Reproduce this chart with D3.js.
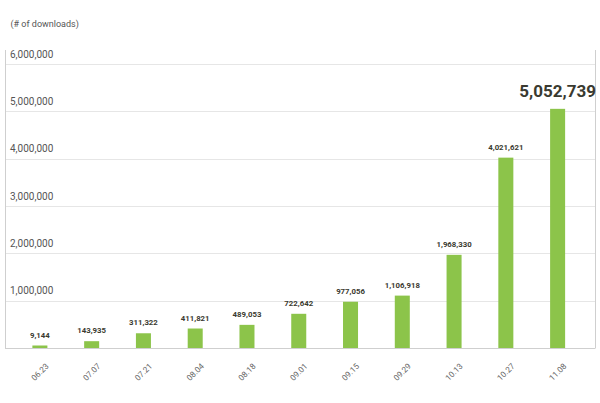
<!DOCTYPE html>
<html><head><meta charset="utf-8">
<script src="https://cdn.jsdelivr.net/npm/d3@7"></script>
<style>body{margin:0;background:#fff}svg{display:block}</style>
</head><body>
<svg id="c" width="600" height="403"></svg>
<script>
const categories = ["06.23","07.07","07.21","08.04","08.18","09.01","09.15","09.29","10.13","10.27","11.08"];
const values = [9144,143935,311322,411821,489053,722642,977056,1106918,1968330,4021621,5052739];
const yTicks = [1000000,2000000,3000000,4000000,5000000,6000000];
const yTitle = "(# of downloads)";

const svg = d3.select("#c");
const x0 = 5, x1 = 595.5, yTop = 50, yBase = 348;
const x = d3.scaleBand().domain(categories).range([14, 583.5]).paddingInner(0.71).paddingOuter(0.355);
const y = d3.scaleLinear().domain([0, 6000000]).range([yBase, 64]);
const fmt = d3.format(",");
const FONT = "Roboto, 'Liberation Sans', Arial, sans-serif";

// gridlines
svg.append("g").selectAll("line").data(yTicks).join("line")
  .attr("x1", x0).attr("x2", x1).attr("y1", d => Math.round(y(d)) + 0.5).attr("y2", d => Math.round(y(d)) + 0.5)
  .attr("stroke", "#e6e6e6").attr("stroke-width", 1);

// tick labels
svg.append("g").selectAll("text").data(yTicks).join("text")
  .attr("x", 10).attr("y", d => y(d) - 6.5)
  .attr("font-family", FONT).attr("font-size", 10)
  .attr("fill", "#555").text(d => fmt(d));

svg.append("text").attr("x", 10.5).attr("y", 27)
  .attr("font-family", FONT).attr("font-size", 9)
  .attr("fill", "#555").text(yTitle);

// frame lines
svg.append("line").attr("x1", x0 + 0.5).attr("x2", x0 + 0.5).attr("y1", yTop).attr("y2", yBase).attr("stroke", "#cfcfcf");
svg.append("line").attr("x1", x1).attr("x2", x1).attr("y1", yTop).attr("y2", yBase).attr("stroke", "#cfcfcf");
svg.append("line").attr("x1", x0).attr("x2", x1).attr("y1", yBase + 0.5).attr("y2", yBase + 0.5).attr("stroke", "#cfcfcf");

// bars
svg.append("g").selectAll("rect").data(values).join("rect")
  .attr("x", (d, i) => x(categories[i])).attr("width", x.bandwidth())
  .attr("y", d => Math.min(y(d), yBase - 2.5)).attr("height", d => yBase - Math.min(y(d), yBase - 2.5))
  .attr("fill", "#8cc44a");

// value labels
const last = values.length - 1;
svg.append("g").selectAll("text").data(values).join("text")
  .attr("x", (d, i) => x(categories[i]) + x.bandwidth() / 2)
  .attr("y", (d, i) => Math.min(y(d), yBase - 2.5) - (i === last ? 12 : 8))
  .attr("text-anchor", "middle")
  .attr("font-family", FONT)
  .attr("font-weight", "bold")
  .attr("font-size", (d, i) => i === last ? 17 : 7.8)
  .attr("fill", "#3a3a30")
  .text(d => fmt(d));

// x labels
svg.append("g").selectAll("text").data(categories).join("text")
  .attr("transform", d => `translate(${x(d) + x.bandwidth() / 2},${372}) rotate(-45)`)
  .attr("text-anchor", "middle").attr("dy", "0.35em")
  .attr("font-family", FONT)
  .attr("font-size", 8.2).attr("fill", "#666").text(d => d);
</script>
</body></html>
